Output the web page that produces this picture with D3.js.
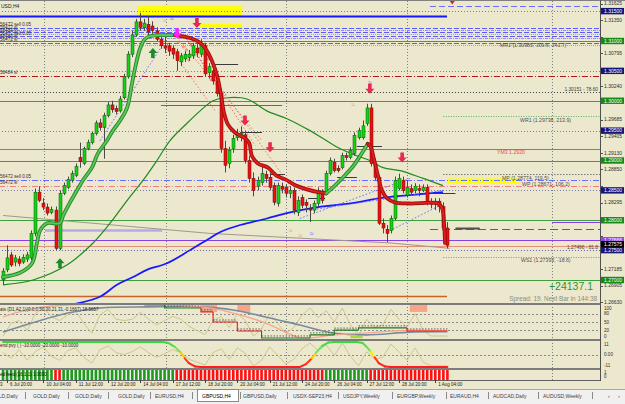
<!DOCTYPE html>
<html>
<head>
  <meta charset="utf-8">
  <title>GBPUSD,H4</title>
  <script src="https://d3js.org/d3.v7.min.js"></script>
  <style>
    body { margin: 0; background: #ebe8cd; overflow: hidden; }
    svg { display: block; }
    text { font-family: 'Liberation Sans', Arial, sans-serif; }
  </style>
</head>
<body>
<svg id="main-svg"></svg>
<script>
// GBPUSD H4, bars 0..110 (5 Jul - 1 Aug 2023)
const barOpen = [
  1.2700,1.2717,1.2742,1.2730,1.2735,1.2730,1.2735,1.2737,1.2778,1.2847,
  1.2828,1.2822,1.2813,1.2817,1.2753,1.2845,1.2855,1.2867,1.2875,1.2905,
  1.2895,1.2920,1.2930,1.2945,1.2963,1.2955,1.2975,1.2993,1.2987,1.2983,
  1.3005,1.3040,1.3078,1.3110,1.3132,1.3122,1.3128,1.3125,1.3117,1.3103,
  1.3092,1.3092,1.3088,1.3082,1.3065,1.3070,1.3072,1.3075,1.3088,1.3078,
  1.3092,1.3047,1.3050,1.3033,1.3013,1.2920,1.2895,1.2920,1.2938,1.2938,
  1.2943,1.2900,1.2870,1.2857,1.2863,1.2877,1.2872,1.2858,1.2828,1.2857,
  1.2855,1.2845,1.2850,1.2813,1.2838,1.2830,1.2820,1.2817,1.2828,1.2845,
  1.2847,1.2878,1.2897,1.2887,1.2888,1.2908,1.2905,1.2912,1.2938,1.2938,
  1.2962,1.2988,1.2895,1.2872,1.2795,1.2785,1.2783,1.2803,1.2853,1.2867,
  1.2842,1.2853,1.2850,1.2853,1.2850,1.2855,1.2830,1.2827,1.2832,1.2823,1.2787];
const barHigh = [
  1.2720,1.2758,1.2747,1.2742,1.2740,1.2743,1.2747,1.2783,1.2853,1.2857,
  1.2837,1.2828,1.2823,1.2823,1.2850,1.2863,1.2873,1.2883,1.2895,1.2930,
  1.2923,1.2935,1.2948,1.2967,1.2970,1.2980,1.2998,1.3000,1.2992,1.3008,
  1.3045,1.3083,1.3117,1.3137,1.3147,1.3137,1.3142,1.3133,1.3123,1.3108,
  1.3107,1.3097,1.3093,1.3087,1.3080,1.3083,1.3085,1.3097,1.3095,1.3103,
  1.3097,1.3063,1.3057,1.3038,1.3020,1.2933,1.2923,1.2943,1.2953,1.2957,
  1.2950,1.2908,1.2880,1.2873,1.2890,1.2883,1.2880,1.2863,1.2863,1.2863,
  1.2860,1.2857,1.2855,1.2840,1.2843,1.2835,1.2827,1.2833,1.2855,1.2852,
  1.2883,1.2905,1.2903,1.2892,1.2913,1.2913,1.2922,1.2947,1.2955,1.2967,
  1.2995,1.2995,1.2903,1.2875,1.2803,1.2792,1.2808,1.2873,1.2878,1.2873,
  1.2867,1.2860,1.2862,1.2860,1.2860,1.2860,1.2837,1.2837,1.2837,1.2830,1.2797];
const barLow = [
  1.2692,1.2713,1.2722,1.2723,1.2723,1.2727,1.2730,1.2733,1.2773,1.2830,
  1.2817,1.2808,1.2810,1.2750,1.2750,1.2842,1.2852,1.2863,1.2872,1.2888,
  1.2892,1.2917,1.2927,1.2942,1.2950,1.2903,1.2972,1.2980,1.2977,1.2980,
  1.3002,1.3037,1.3073,1.3107,1.3117,1.3117,1.3108,1.3112,1.3100,1.3087,
  1.3080,1.3075,1.3070,1.3050,1.3058,1.3065,1.3067,1.3070,1.3073,1.3073,
  1.3040,1.3037,1.3027,1.3007,1.2913,1.2880,1.2887,1.2913,1.2933,1.2932,
  1.2895,1.2863,1.2840,1.2850,1.2858,1.2863,1.2850,1.2825,1.2823,1.2845,
  1.2838,1.2837,1.2810,1.2807,1.2820,1.2813,1.2797,1.2812,1.2823,1.2828,
  1.2842,1.2875,1.2880,1.2880,1.2885,1.2900,1.2902,1.2908,1.2935,1.2935,
  1.2958,1.2890,1.2867,1.2792,1.2778,1.2763,1.2778,1.2800,1.2850,1.2845,
  1.2838,1.2842,1.2845,1.2840,1.2847,1.2825,1.2820,1.2817,1.2813,1.2780,1.2753];
const barClose = [
  1.2715,1.2737,1.2725,1.2737,1.2728,1.2738,1.2742,1.2778,1.2847,1.2833,
  1.2822,1.2812,1.2818,1.2753,1.2845,1.2858,1.2868,1.2878,1.2890,1.2898,
  1.2920,1.2930,1.2945,1.2963,1.2955,1.2975,1.2993,1.2985,1.2982,1.3003,
  1.3040,1.3078,1.3110,1.3132,1.3123,1.3130,1.3115,1.3118,1.3103,1.3092,
  1.3088,1.3083,1.3078,1.3067,1.3075,1.3078,1.3078,1.3092,1.3080,1.3095,
  1.3045,1.3057,1.3033,1.3012,1.2920,1.2892,1.2917,1.2937,1.2943,1.2945,
  1.2900,1.2870,1.2850,1.2867,1.2878,1.2870,1.2855,1.2830,1.2858,1.2852,
  1.2845,1.2850,1.2817,1.2833,1.2825,1.2825,1.2817,1.2828,1.2850,1.2833,
  1.2878,1.2900,1.2883,1.2883,1.2908,1.2905,1.2917,1.2942,1.2950,1.2958,
  1.2988,1.2895,1.2872,1.2795,1.2787,1.2778,1.2803,1.2867,1.2870,1.2850,
  1.2855,1.2847,1.2857,1.2850,1.2855,1.2830,1.2827,1.2832,1.2823,1.2787,1.2758];

// trend ribbon (bar, price), split where it changes colour
const trendUpA = [[0,1.2705],[4.2,1.2712],[7.2,1.2728],[8.4,1.2762],[9.2,1.2783],[10.9,1.2795],[14.1,1.2795],
  [14.9,1.2808],[16.6,1.2830],[18.3,1.2850],[19.8,1.2867],[22,1.2888],[23.5,1.2912],[25.7,1.2933],[27.2,1.2950],
  [29,1.2967],[30.7,1.2988],[31.9,1.3028],[32.7,1.3055],[33.9,1.3087],[35.1,1.3103],[36.4,1.3108],[42.6,1.3110]];
const trendDownA = [[42.6,1.3110],[46.3,1.3105],[48.8,1.3097],[50.5,1.3083],[51.7,1.3067],[53,1.3042],[54,1.3008],
  [54.7,1.2980],[55.7,1.2960],[57.4,1.2947],[59.7,1.2938],[60.9,1.2930],[61.6,1.2908],[63.1,1.2895],[65.6,1.2888],
  [67.6,1.2875],[70,1.2868],[72.5,1.2858],[75,1.2852],[78,1.2847],[80,1.2845]];
const trendUpB = [[80,1.2845],[81.7,1.2855],[84.2,1.2872],[86.6,1.2890],[88.9,1.2913],[90.3,1.2928]];
const trendDownB = [[90.3,1.2928],[91,1.2923],[91.8,1.2903],[92.8,1.2875],[93.8,1.2850],[95,1.2837],[97,1.2830],
  [100.7,1.2828],[107.7,1.2828],[108.7,1.2820],[109.2,1.2792],[109.4,1.2762]];

const maGreen = [[0,1.2692],[7.4,1.2700],[15.8,1.2725],[22.3,1.2762],[26.5,1.2795],[30.7,1.2833],[34.7,1.2867],
  [38.1,1.2900],[41.3,1.2933],[45.5,1.2962],[48.8,1.2983],[52,1.3000],[55.4,1.3005],[60.4,1.3003],[65.3,1.2983],
  [70.3,1.2970],[76,1.2950],[79.2,1.2937],[83.4,1.2920],[87.6,1.2908],[90.8,1.2900],[94.1,1.2888],[98.3,1.2883],
  [104,1.2870],[108.9,1.2858]];
const maBlue = [[17.8,1.2660],[24,1.2672],[28.2,1.2692],[32.2,1.2705],[35.6,1.2717],[40.6,1.2728],[46.3,1.2750],
  [51.2,1.2770],[53.7,1.2780],[58.7,1.2792],[65.3,1.2803],[70.3,1.2812],[76,1.2820],[81.7,1.2825],[87.6,1.2830],
  [93.3,1.2837],[100.7,1.2842],[108.9,1.2847]];
const grayTrend = [[0,1.2808],[51.2,1.2778],[73.5,1.2770],[95.8,1.2762],[110.6,1.2753]];

// dotted channel lines [bar1, price1, bar2, price2]
const blueDotted = [[24,1.2933,39.4,1.3092],[73.5,1.2803,100.7,1.2870],[76,1.2817,108.9,1.2850],[95,1.2780,108.2,1.2825]];
const pinkDotted = [[43.3,1.3105,64.1,1.2933],[40.1,1.3100,52.5,1.2983],[47.5,1.3083,71,1.2858],[45,1.3108,62.4,1.2925]];
// short black levels [fromBar, toBar, price]
const blackSegments = [[52,58.2,1.3062],[58.7,64.1,1.2947],[66.1,69.8,1.2878],[75.5,79.7,1.2837],
  [82.7,87.6,1.2872],[87.6,93.8,1.2925],[103.2,112,1.2845]];
// small pink marks near the top [bar, price]
const pinkMarks = [[43.5,1.3098],[44.6,1.3090],[45.4,1.3085],[46.5,1.3093],[47.2,1.3080],[48.4,1.3088],
  [49.6,1.3078],[50.8,1.3070],[44.2,1.3075],[46,1.3068],[52.6,1.3050],[51.5,1.3035]];

// horizontal objects
const roundLevels = [1.31, 1.30, 1.29, 1.28, 1.27];
const halfLevels = [1.315, 1.305, 1.295, 1.285, 1.275];
const objectLines = [
  {price: 1.31583, from: 105.7, to: 150, kind: 'blueLong'},
  {price: 1.31417, from: -1, to: 109.9, kind: 'blueSolid'},
  {price: 1.3122, from: -1, to: 150, kind: 'bundleA'},
  {price: 1.3118, from: -1, to: 150, kind: 'bundleB'},
  {price: 1.3115, from: -1, to: 150, kind: 'bundleA'},
  {price: 1.3112, from: -1, to: 150, kind: 'bundleC'},
  {price: 1.3108, from: -1, to: 150, kind: 'bundleA'},
  {price: 1.3105, from: -1, to: 150, kind: 'bundleB'},
  {price: 1.3097, from: -1, to: 150, kind: 'bundleA'},
  {price: 1.3093, from: -1, to: 150, kind: 'bundleC'},
  {price: 1.3042, from: -1, to: 150, kind: 'slRed'},
  {price: 1.30151, from: -1, to: 150, kind: 'blackDot'},
  {price: 1.2993, from: 39.1, to: 69.1, kind: 'purple'},
  {price: 1.29738, from: 109, to: 150, kind: 'greenDot'},
  {price: 1.2920, from: -1, to: 150, kind: 'red'},
  {price: 1.28774, from: 109, to: 150, kind: 'blackDot'},
  {price: 1.28671, from: -1, to: 150, kind: 'sellBlue'},
  {price: 1.2858, from: -1, to: 150, kind: 'slPink'},
  {price: 1.2797, from: 135.9, to: 150, kind: 'purple'},
  {price: 1.2785, from: 105.7, to: 150, kind: 'grayDash'},
  {price: 1.2787, from: 112, to: 118, kind: 'grayThick'},
  {price: 1.2783, from: 10.4, to: 39.4, kind: 'lavender'},
  {price: 1.2767, from: -1, to: 150, kind: 'purple'},
  {price: 1.27575, from: -1, to: 150, kind: 'bid'},
  {price: 1.27496, from: -1, to: 150, kind: 'blueDot'},
  {price: 1.27393, from: 109, to: 150, kind: 'greenDot'},
  {price: 1.26733, from: -1, to: 109.9, kind: 'brown'}
];
// yellow zones [fromBar, toBar, top, bottom]
const yellowZones = [[33.2, 59.2, 1.31583, 1.31433], [48.8, 59.2, 1.31283, 1.31217], [110, 128, 1.2870, 1.2862]];

const pivotNames = ['MR1', 'WR1', 'YM3', 'MP', 'WP', 'WS1'];
const pivotPrices = [1.30985, 1.29738, 1.2920, 1.28774, 1.28671, 1.27393];
const pivotNotes = ['(1.30985, 309.6, 341.7)', '(1.29738, 213.9)', '1.2920', '(1.28774, 119.5)', '(1.28671, 106.2)', '(1.27393, -18.6)'];

const orderTags = ['56472 sell 0.05', '56472 sl', '58484 tp', '56472 sell 0.05', '58484 sl', '56472 sl', '58484 sl', '56472 sell 0.05', '56472 sl'];
const orderPrices = [1.3125, 1.3120, 1.3115, 1.3110, 1.3105, 1.3100, 1.3045, 1.2870, 1.2861];

const upArrows = [[14.1, 1.2728], [37.1, 1.3080]];
const downArrows = [[48, 1.3130], [59.9, 1.2967], [66.1, 1.2922], [90.8, 1.3020], [98.8, 1.2905]];
const magentaArrows = [[43.1, 1.3113]];
const waveMarks = [[90.8, 1.3027, 'b'], [86.7, 1.2990, 'o'], [40.1, 1.3130, 'o'], [41.8, 1.3133, 'b'],
  [71.2, 1.2779, 'o'], [73.6, 1.2770, 'o'], [76.4, 1.2774, 'b']];

const priceTicks = [1.31625,1.31350,1.31070,1.30795,1.30520,1.30240,1.29965,1.29685,1.29405,1.29130,
  1.28850,1.28575,1.28295,1.28020,1.27740,1.27465,1.27185,1.26905,1.26630];

// oscillator 1 (0..100)
const osc1Khaki = [0,45,55,20,80,100,70,55,75,90,45,10,75,95,60,55,60,85,60,40,55,70,60,35,20,5,55,70,30,80,
  55,0,25,80,45,10,30,75,100,65,90,50,100,40,0,60,30,40,95,60,30,80,20,0,0,0];
const osc1Slow = [[0,14],[8,50],[16,82],[24,100],[36,104],[49,104],[57,93],[65,68],[73.5,39],[81.7,11],[90,4],[100.7,14],[110,15]];
const osc1Signal = [[0,68],[10,104],[49,104],[57,82],[65,46],[73,-4],[76,-7],[82,4],[90,11],[101,21],[110,18]];
const osc1Steps = [[35,40,111],[40,49,100],[49,52,86],[52,58,50],[58,64,18],[64,76,-7],[76,82,4],[82,88,21],[88,100,29],[100,110,18]];
const osc1StepUp = [1,1,0,0,0,1,1,1,1,0];
const osc1Blocks = [[49,53],[58,61.2],[100.7,105]];
const osc1Lime = [[86,89]];

// oscillator 2 (-11..11)
const osc2Khaki = [2,-4,5,-6,3,8,-2,-6,4,7,-3,-9,5,9,2,0,3,8,2,-3,1,5,2,-5,-8,-11,2,6,-5,7,
  1,-12,-6,8,-1,-10,-5,6,12,4,10,-1,12,-2,-12,3,-5,-3,11,3,-6,7,-8,-12,-12,-12];
const osc2Trend = [[0,13],[39.6,13],[41,12],[42.5,8],[44,2],[45,-4],[46,-9],[47.5,-12.5],[49,-13],[73.5,-13],
  [75,-10],[76.5,-4],[77.5,2],[79,9],[80.5,12.5],[82,13],[87.6,13],[89,12],[90,8],[91,3],[92,-3],[93,-9],
  [94.5,-12.5],[96,-13],[110,-13]];

// feed histogram: 1 = up, 0 = down
const feedSignal = [
  1,1,1,1,1,1,1,1,1,1, 1,1,1,0,0,1,1,1,1,1, 1,1,1,1,1,1,1,1,1,1, 1,1,1,1,1,1,1,1,1,1,
  1,1,1,0,0,0,0,0,0,0, 0,0,0,0,0,0,0,0,0,0, 0,0,0,0,0,0,0,0,0,0, 0,0,0,0,0,0,0,0,0,0,
  1,1,1,1,1,1,1,1,1,1, 1,0,0,0,0,0,0,0,0,0, 0,0,0,0,0,0,0,0,0,0, 0];

const timeLabels = ['5 Jul 2023','6 Jul 20:00','10 Jul 04:00','11 Jul 12:00','12 Jul 20:00','14 Jul 04:00',
  '17 Jul 12:00','18 Jul 20:00','20 Jul 04:00','21 Jul 12:00','24 Jul 20:00','26 Jul 04:00','27 Jul 12:00',
  '28 Jul 20:00','1 Aug 04:00'];
const timeLabelBars = [-6, 1, 10, 18, 26, 34, 42, 50, 58, 66, 74, 82, 90, 98, 107];
const gridBars = [10.2, 40.3, 70, 100, 135.9];

const tabNames = ['GOLD,Daily','GOLD,Daily','GOLD,Daily','GOLD,Daily','EURUSD,H4','GBPUSD,H4','GBPUSD,Daily',
  'USDX-SEP23,H4','USDJPY,Weekly','EURGBP,Weekly','EURAUD,H4','AUDCAD,Daily','AUDUSD,Weekly'];
const activeTab = 5;

// ---------------- layout ----------------
const svg_width = 625, svg_height = 404;
const axisX = 600;
const tabX = [-9, 33, 75, 118, 155, 202, 243, 293, 343, 397, 450, 493, 543];
const sepX = [25, 68, 108, 150, 192, 240, 287, 338, 392, 446, 488, 538, 592];
const pivotLabelX = [500, 520, 497, 502, 522, 521];

const styles = {
  round: ['#3f9f3f', 1, null], half: ['#7878a8', 1, '1,2'],
  blueLong: ['#6b6bff', 1, '6,3'], blueSolid: ['#1515ff', 2, null],
  bundleA: ['#5a5aff', 1, '5,2'], bundleB: ['#8c8cff', 1, '3,1,1,1'], bundleC: ['#9a9ae0', 1, '1,1'],
  slRed: ['#b01818', 1, '6,2,1,2'], blackDot: ['#404040', 1, '1,2'], purple: ['#8a3ee8', 1.2, null],
  greenDot: ['#5aae5a', 1, '1,1.5'], red: ['#f05050', 1, null], sellBlue: ['#6b6bff', 1, '6,2,1,2'],
  slPink: ['#f08080', 1, '6,2,1,2'], grayDash: ['#606060', 1, '8,4'], grayThick: ['#505050', 2, null],
  lavender: ['#b8a8e8', 2.5, null], bid: ['#e4907a', 1.2, null], blueDot: ['#6a6ab0', 1, '1,2'],
  brown: ['#c86428', 1.4, null]
};

const x = d3.scaleLinear().domain([0, 110]).range([3, 447.4]);
const y = d3.scaleLinear().domain([1.27, 1.31]).range([280, 41]);
const y1 = d3.scaleLinear().domain([0, 100]).range([336, 308]);
const y2 = d3.scaleLinear().domain([-11, 11]).range([365, 344]);

const svg = d3.select('#main-svg').attr('width', svg_width).attr('height', svg_height);
svg.append('rect').attr('width', svg_width).attr('height', svg_height).attr('fill', '#ebe8cd');

const defs = svg.append('defs');
function clip(id, x0, y0, w, h) {
  defs.append('clipPath').attr('id', id).append('rect').attr('x', x0).attr('y', y0).attr('width', w).attr('height', h);
}
clip('c-main', 0, 1, axisX, 302);
clip('c-p1', 0, 305, axisX, 34);
clip('c-p2', 0, 341, axisX, 27);
clip('c-p3', 0, 370, axisX, 10);

// grid
svg.append('g').selectAll('line').data(gridBars).enter().append('line')
  .attr('x1', d => Math.round(x(d)) + 0.5).attr('x2', d => Math.round(x(d)) + 0.5)
  .attr('y1', 1).attr('y2', 380)
  .attr('stroke', '#808080').attr('stroke-dasharray', '1,2').attr('stroke-width', 1);

const main = svg.append('g').attr('clip-path', 'url(#c-main)');

function hline(g, price, from, to, kind) {
  const s = styles[kind];
  const yy = Math.round(y(price)) + 0.5;
  g.append('line').attr('x1', x(from)).attr('x2', x(to)).attr('y1', yy).attr('y2', yy)
    .attr('stroke', s[0]).attr('stroke-width', s[1]).attr('stroke-dasharray', s[2]);
}

// yellow zones
main.selectAll('.zone').data(yellowZones).enter().append('rect')
  .attr('x', d => x(d[0])).attr('width', d => x(d[1]) - x(d[0]))
  .attr('y', d => y(d[2])).attr('height', d => y(d[3]) - y(d[2]))
  .attr('fill', '#ffff00');

halfLevels.forEach(p => hline(main, p, -1, 150, 'half'));
roundLevels.forEach(p => hline(main, p, -1, 150, 'round'));
objectLines.forEach(d => hline(main, d.price, d.from, d.to, d.kind));

const line = d3.line().x(d => x(d[0])).y(d => y(d[1]));
const smooth = d3.line().x(d => x(d[0])).y(d => y(d[1])).curve(d3.curveCatmullRom.alpha(0.5));

main.append('path').attr('d', line(grayTrend)).attr('fill', 'none').attr('stroke', '#9c9a8c').attr('stroke-width', 1);
main.append('path').attr('d', smooth(maGreen)).attr('fill', 'none').attr('stroke', '#1f8a1f').attr('stroke-width', 1.2);
main.append('path').attr('d', smooth(maBlue)).attr('fill', 'none').attr('stroke', '#1818ff').attr('stroke-width', 1.7);

main.selectAll('.bd').data(blueDotted).enter().append('line')
  .attr('x1', d => x(d[0])).attr('y1', d => y(d[1])).attr('x2', d => x(d[2])).attr('y2', d => y(d[3]))
  .attr('stroke', '#6a6aff').attr('stroke-dasharray', '1.5,2').attr('stroke-width', 1);
main.selectAll('.pd').data(pinkDotted).enter().append('line')
  .attr('x1', d => x(d[0])).attr('y1', d => y(d[1])).attr('x2', d => x(d[2])).attr('y2', d => y(d[3]))
  .attr('stroke', '#f07070').attr('stroke-dasharray', '1.5,2').attr('stroke-width', 1);
main.selectAll('.bs').data(blackSegments).enter().append('line')
  .attr('x1', d => x(d[0])).attr('x2', d => x(d[1]))
  .attr('y1', d => Math.round(y(d[2])) + 0.5).attr('y2', d => Math.round(y(d[2])) + 0.5)
  .attr('stroke', '#3a3a3a').attr('stroke-width', 1);
main.selectAll('.pm').data(pinkMarks).enter().append('circle')
  .attr('cx', d => x(d[0])).attr('cy', d => y(d[1])).attr('r', 1)
  .attr('fill', 'none').attr('stroke', '#f05a5a').attr('stroke-width', 0.7);

// candles
const idx = d3.range(barOpen.length);
main.selectAll('.wick').data(idx).enter().append('line')
  .attr('x1', i => Math.round(x(i)) + 0.5).attr('x2', i => Math.round(x(i)) + 0.5)
  .attr('y1', i => y(barHigh[i])).attr('y2', i => y(barLow[i]))
  .attr('stroke', '#4a4a4a').attr('stroke-width', 1);
main.selectAll('.body').data(idx).enter().append('rect')
  .attr('x', i => Math.round(x(i)) - 1)
  .attr('width', 3)
  .attr('y', i => y(Math.max(barOpen[i], barClose[i])))
  .attr('height', i => Math.max(1, Math.abs(y(barOpen[i]) - y(barClose[i]))))
  .attr('fill', i => barClose[i] >= barOpen[i] ? '#14d214' : '#ee1010')
  .attr('stroke', i => barClose[i] >= barOpen[i] ? '#0a5a0a' : '#6a0a0a')
  .attr('stroke-width', 0.5);

// trend ribbon
function ribbon(pts, outer, inner) {
  main.append('path').attr('d', smooth(pts)).attr('fill', 'none').attr('stroke', outer)
    .attr('stroke-width', 3.8).attr('stroke-linecap', 'round').attr('stroke-linejoin', 'round');
  main.append('path').attr('d', smooth(pts)).attr('fill', 'none').attr('stroke', inner)
    .attr('stroke-width', 1.8).attr('stroke-linecap', 'round').attr('stroke-linejoin', 'round');
}
ribbon(trendUpA, '#2a8a2a', '#5cc85c');
ribbon(trendDownA, '#a01010', '#e41c1c');
ribbon(trendUpB, '#2a8a2a', '#5cc85c');
ribbon(trendDownB, '#a01010', '#e41c1c');

// arrows
const arrowUp = 'M0,-5 L4.5,0 L1.8,0 L1.8,5 L-1.8,5 L-1.8,0 L-4.5,0 Z';
const arrowDown = 'M0,5 L4.5,0 L1.8,0 L1.8,-5 L-1.8,-5 L-1.8,0 L-4.5,0 Z';
main.selectAll('.ua').data(upArrows).enter().append('path')
  .attr('transform', d => 'translate(' + x(d[0]) + ',' + y(d[1]) + ')').attr('d', arrowUp).attr('fill', '#1c8a2c');
main.selectAll('.da').data(downArrows).enter().append('path')
  .attr('transform', d => 'translate(' + x(d[0]) + ',' + y(d[1]) + ')').attr('d', arrowDown).attr('fill', '#e8284e');
main.selectAll('.ma').data(magentaArrows).enter().append('path')
  .attr('transform', d => 'translate(' + x(d[0]) + ',' + y(d[1]) + ')').attr('d', arrowDown).attr('fill', '#ff22ff');
main.selectAll('.wv').data(waveMarks).enter().append('text')
  .attr('x', d => x(d[0])).attr('y', d => y(d[1])).attr('text-anchor', 'middle')
  .attr('font-size', 7).attr('fill', d => d[2] === 'b' ? '#5a5aff' : '#f0a050').text('\u2248');
main.append('path').attr('d', 'M-2.5,0 L2.5,0 L0,3.5 Z')
  .attr('transform', 'translate(' + x(111.2) + ',1)').attr('fill', '#e02020');

// texts in main area
const small = 4.6;
main.append('text').attr('x', 1).attr('y', 8).attr('font-size', 5).attr('fill', '#202020').text('USD,H4');
main.selectAll('.ot').data(orderTags).enter().append('text')
  .attr('x', 0).attr('y', (d, i) => y(orderPrices[i])).attr('font-size', small).attr('fill', '#303030').text(d => d);
main.selectAll('.pv').data(pivotNames).enter().append('text')
  .attr('x', (d, i) => pivotLabelX[i]).attr('y', (d, i) => y(pivotPrices[i]) + 5.5)
  .attr('font-size', 5.2).attr('fill', (d, i) => d === 'YM3' ? '#e84848' : '#505050')
  .text((d, i) => d + ' ' + pivotNotes[i]);
main.append('text').attr('x', 598).attr('y', y(1.30151) - 1.2).attr('text-anchor', 'end')
  .attr('font-size', 4.8).attr('fill', '#404040').text('1.30151 - 78.60');
main.append('text').attr('x', 598).attr('y', y(1.27496) - 1.2).attr('text-anchor', 'end')
  .attr('font-size', 4.8).attr('fill', '#404040').text('1.27496 - 81.8');
main.append('text').attr('x', 593).attr('y', 289.5).attr('text-anchor', 'end')
  .attr('font-size', 10.5).attr('fill', '#2c962c').text('+24137.1');
svg.append('text').attr('x', 597).attr('y', 301).attr('text-anchor', 'end')
  .attr('font-family', "'Liberation Mono', 'DejaVu Sans Mono', monospace")
  .attr('font-size', 6.4).attr('fill', '#8c8c80').text('Spread: 19. Next Bar in 144:38');

// ---------------- panel 1 ----------------
const p1 = svg.append('g').attr('clip-path', 'url(#c-p1)');
[80, 50, 20].forEach(v => p1.append('line').attr('x1', 0).attr('x2', axisX)
  .attr('y1', Math.round(y1(v)) + 0.5).attr('y2', Math.round(y1(v)) + 0.5)
  .attr('stroke', '#8a8a8a').attr('stroke-dasharray', '2,2'));
p1.selectAll('.blk').data(osc1Blocks).enter().append('rect')
  .attr('x', d => x(d[0])).attr('width', d => x(d[1]) - x(d[0]))
  .attr('y', y1(112)).attr('height', y1(86) - y1(112)).attr('fill', '#f8a488');
p1.selectAll('.lime').data(osc1Lime).enter().append('rect')
  .attr('x', d => x(d[0])).attr('width', d => x(d[1]) - x(d[0]))
  .attr('y', y1(0)).attr('height', y1(-8) - y1(0)).attr('fill', '#a8d83c');
const l1 = d3.line().x(d => x(d[0])).y(d => y1(d[1])).curve(d3.curveCatmullRom.alpha(0.5));
p1.append('path').attr('d', d3.line().x((d, i) => x(i * 2)).y(d => y1(d))(osc1Khaki))
  .attr('fill', 'none').attr('stroke', '#c9c386').attr('stroke-width', 0.9);
p1.append('path').attr('d', l1(osc1Slow)).attr('fill', 'none').attr('stroke', '#7a8aa0').attr('stroke-width', 1.6);
p1.append('path').attr('d', l1(osc1Signal)).attr('fill', 'none').attr('stroke', '#f4a890').attr('stroke-width', 1.3);
p1.selectAll('.st').data(osc1Steps).enter().append('path')
  .attr('d', (d, i) => {
    const prev = i > 0 ? osc1Steps[i - 1][2] : d[2];
    return 'M' + x(d[0]) + ',' + y1(prev) + 'L' + x(d[0]) + ',' + y1(d[2]) + 'L' + x(d[1]) + ',' + y1(d[2]);
  })
  .attr('fill', 'none').attr('stroke', (d, i) => osc1StepUp[i] ? '#1e7a1e' : '#e81c1c').attr('stroke-width', 1.1);
p1.selectAll('.st2').data(osc1Steps).enter().append('line')
  .attr('x1', d => x(d[0])).attr('x2', d => x(d[1]))
  .attr('y1', d => y1(d[2]) - 2).attr('y2', d => y1(d[2]) - 2)
  .attr('stroke', '#404040').attr('stroke-dasharray', '1.5,1.5').attr('stroke-width', 0.8);
svg.append('text').attr('x', 0).attr('y', 311).attr('font-size', 4.5).attr('fill', '#202020')
  .text('ats (D1,A2,1)(0.0,0.50,30,21,31,-0.1667) 18.5657');

// ---------------- panel 2 ----------------
const p2 = svg.append('g').attr('clip-path', 'url(#c-p2)');
p2.append('line').attr('x1', 0).attr('x2', axisX).attr('y1', Math.round(y2(0)) + 0.5).attr('y2', Math.round(y2(0)) + 0.5)
  .attr('stroke', '#8a8a8a').attr('stroke-dasharray', '2,2');
p2.append('path').attr('d', d3.line().x((d, i) => x(i * 2)).y(d => y2(d))(osc2Khaki))
  .attr('fill', 'none').attr('stroke', '#c9c386').attr('stroke-width', 0.9);
const trendColor = d3.scaleLinear().domain([-13, -6, 0, 6, 13]).range(['#ff1c1c', '#ff3a1c', '#f4f000', '#60e060', '#3cd83c']);
const l2 = d3.line().x(d => x(d[0])).y(d => y2(d[1])).curve(d3.curveCatmullRom.alpha(0.5));
for (let k = 0; k < osc2Trend.length - 1; k++) {
  const a = osc2Trend[k], b = osc2Trend[k + 1];
  p2.append('path').attr('d', l2([a, b])).attr('fill', 'none')
    .attr('stroke', trendColor((a[1] + b[1]) / 2)).attr('stroke-width', 2).attr('stroke-linecap', 'round');
}
svg.append('text').attr('x', 0).attr('y', 346.5).attr('font-size', 4.5).attr('fill', '#202020')
  .text('end pvy ( ) -10.0000 -20.0000 -10.0000');

// ---------------- panel 3 ----------------
const p3 = svg.append('g').attr('clip-path', 'url(#c-p3)');
p3.append('rect').attr('x', 0).attr('width', x(110) + 2).attr('y', 370).attr('height', 10).attr('fill', '#f6f6f0');
p3.selectAll('.fb').data(feedSignal).enter().append('rect')
  .attr('x', (d, i) => x(i) - 1.3).attr('width', 2.6).attr('y', 370).attr('height', 10)
  .attr('fill', d => d ? '#1e9a1e' : '#ff1010');
svg.append('text').attr('x', 0).attr('y', 376).attr('font-size', 4.5).attr('fill', '#101010')
  .text('ed feed (16,1,1) 1.0000');

// ---------------- frame ----------------
svg.append('line').attr('x1', 0).attr('x2', svg_width).attr('y1', 0.5).attr('y2', 0.5).attr('stroke', '#808080');
[303, 339, 368].forEach(v => svg.append('rect').attr('x', 0).attr('width', axisX + 1).attr('y', v).attr('height', 2).attr('fill', '#7c7c7c'));
svg.append('line').attr('x1', 0).attr('x2', axisX).attr('y1', 380.5).attr('y2', 380.5).attr('stroke', '#606060');
svg.append('line').attr('x1', axisX + 0.5).attr('x2', axisX + 0.5).attr('y1', 0).attr('y2', 381).attr('stroke', '#505050');

// price axis: plain ticks are hidden where a level box covers them
const boxPrices = halfLevels.concat(roundLevels, [1.27666, 1.27575]);
const visibleTicks = priceTicks.filter(p => boxPrices.every(b => Math.abs(y(b) - y(p)) > 5));
const axisG = svg.append('g');
axisG.selectAll('.tk').data(priceTicks).enter().append('line')
  .attr('x1', axisX).attr('x2', axisX + 3).attr('y1', d => Math.round(y(d)) + 0.5).attr('y2', d => Math.round(y(d)) + 0.5)
  .attr('stroke', '#505050');
axisG.selectAll('.tl').data(visibleTicks).enter().append('text')
  .attr('x', 604).attr('y', d => y(d) + 1.8).attr('font-size', 5).attr('fill', '#303030')
  .text(d => d.toFixed(5));
function priceBox(p, fill, yy) {
  const cy = yy === undefined ? y(p) : yy;
  axisG.append('rect').attr('x', 601).attr('y', cy - 3.2).attr('width', 23).attr('height', 6.4).attr('fill', fill);
  axisG.append('text').attr('x', 604).attr('y', cy + 1.8).attr('font-size', 5).attr('fill', '#ffffff').text(p.toFixed(5));
}
halfLevels.forEach(p => priceBox(p, '#15157a'));
roundLevels.forEach(p => priceBox(p, '#168a16'));
priceBox(1.27666, '#9848f0');
priceBox(1.27575, '#000000', y(1.27575) - 1.5);

// oscillator axes
const oscTicks = [[100, '100'], [80, '80'], [50, '50'], [20, '20'], [0, '0']];
axisG.selectAll('.o1').data(oscTicks).enter().append('text')
  .attr('x', 604).attr('y', d => y1(d[0]) + 1.6).attr('font-size', 4.6).attr('fill', '#303030').text(d => d[1]);
const osc2Ticks = [[11, '11'], [0, '0.00'], [-11, '-11']];
axisG.selectAll('.o2').data(osc2Ticks).enter().append('text')
  .attr('x', 604).attr('y', d => y2(d[0]) + 1.6).attr('font-size', 4.6).attr('fill', '#303030').text(d => d[1]);
axisG.append('text').attr('x', 604).attr('y', 373.5).attr('font-size', 4.6).attr('fill', '#303030').text('1');
axisG.append('text').attr('x', 604).attr('y', 377.5).attr('font-size', 4.6).attr('fill', '#303030').text('0');

// time axis
const timeG = svg.append('g');
timeG.selectAll('.tt').data(timeLabels).enter().append('line')
  .attr('x1', (d, i) => Math.round(x(timeLabelBars[i])) + 0.5).attr('x2', (d, i) => Math.round(x(timeLabelBars[i])) + 0.5)
  .attr('y1', 380).attr('y2', 383).attr('stroke', '#404040');
timeG.selectAll('.tx').data(timeLabels).enter().append('text')
  .attr('x', (d, i) => x(timeLabelBars[i]) + 3).attr('y', 385.5).attr('font-size', 4.5).attr('fill', '#202020')
  .text(d => d);

// tabs
const tabs = svg.append('g');
tabs.append('rect').attr('x', 0).attr('y', 389).attr('width', svg_width).attr('height', 15).attr('fill', '#f0f0f0');
tabs.append('line').attr('x1', 0).attr('x2', svg_width).attr('y1', 389.5).attr('y2', 389.5).attr('stroke', '#a8a8a8');
tabs.append('rect').attr('x', 197.5).attr('y', 389.5).attr('width', 41).attr('height', 12).attr('fill', '#ffffff')
  .attr('stroke', '#8a8a8a');
tabs.selectAll('.sep').data(sepX).enter().append('line')
  .attr('x1', d => d + 0.5).attr('x2', d => d + 0.5).attr('y1', 392).attr('y2', 399).attr('stroke', '#8a8a8a');
tabs.selectAll('.tab').data(tabNames).enter().append('text')
  .attr('x', (d, i) => tabX[i]).attr('y', 397.5).attr('font-size', 5)
  .attr('fill', (d, i) => i === activeTab ? '#000000' : '#404040')
  .text(d => d);
tabs.append('text').attr('x', 608).attr('y', 397.5).attr('font-size', 5).attr('fill', '#404040').text('\u2039');
tabs.append('text').attr('x', 618).attr('y', 397.5).attr('font-size', 5).attr('fill', '#404040').text('\u203a');
</script>
</body>
</html>
